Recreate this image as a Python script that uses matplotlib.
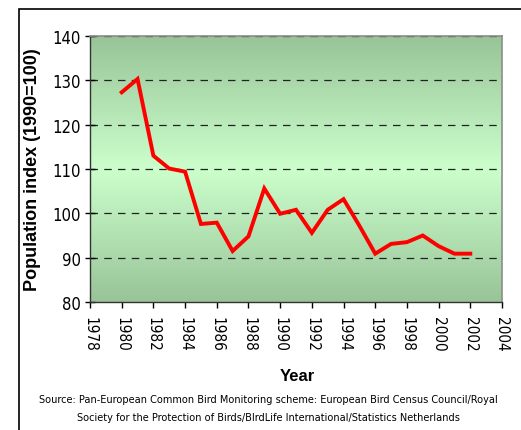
import numpy as np
import matplotlib.pyplot as plt
from matplotlib.colors import LinearSegmentedColormap
from matplotlib.patches import Rectangle

# ------------- dados -------------------
anos = [1980, 1981, 1982, 1983, 1984, 1985, 1986, 1987, 1988, 1989, 1990,
        1991, 1992, 1993, 1994, 1995, 1996, 1997, 1998, 1999, 2000, 2001, 2002]
indice = [127.3, 130.3, 113.0, 110.1, 109.4, 97.6, 97.9, 91.5, 94.8, 105.6, 99.9,
          100.8, 95.6, 100.8, 103.2, 97.2, 90.9, 93.1, 93.5, 95.0, 92.6, 90.9, 90.9]
xticks = list(range(1978, 2005, 2))
yticks = list(range(80, 141, 10))

fonte = ("Source: Pan-European Common Bird Monitoring scheme: European Bird Census Council/Royal\n"
         "Society for the Protection of Birds/BIrdLife International/Statistics Netherlands")

narrow = ['DejaVu Sans']
bold = ['Liberation Sans', 'DejaVu Sans']

# ------------- figura -------------------
fig = plt.figure(figsize=(5.21, 4.31), dpi=100)
fig.patch.set_facecolor('white')

# moldura externa
fig.patches.append(Rectangle((19/521, -0.1), 1.2, (431-10)/431 + 0.1,
                             transform=fig.transFigure, fill=False,
                             edgecolor='black', linewidth=1.2, zorder=0))

ax = fig.add_axes([90/521, (431-303)/431, (502-90)/521, (303-37)/431])

# fundo em gradiente
cmap = LinearSegmentedColormap.from_list('verde', ['#98c498', '#ccffcc', '#98c498'])
grad = np.linspace(0, 1, 256).reshape(-1, 1)
ax.imshow(grad, aspect='auto', cmap=cmap, extent=[0, 1, 0, 1],
          transform=ax.transAxes, zorder=0)

# grade
for v in yticks[1:]:
    ax.axhline(v, color='#222222', linestyle=(0, (6, 5)), linewidth=0.9, zorder=1)

ax.plot(anos, indice, color='#ff0000', linewidth=2.8, solid_joinstyle='miter', zorder=3)

ax.set_xlim(1978, 2004)
ax.set_ylim(80, 140)
ax.set_xticks(xticks)
ax.set_yticks(yticks)
ax.set_xticklabels([str(x) for x in xticks], rotation=270, family=narrow,
                   fontstretch='condensed', fontsize=11)
ax.set_yticklabels([str(y) for y in yticks], family=narrow,
                   fontstretch='condensed', fontsize=12)
ax.tick_params(axis='y', direction='inout', length=7, width=1, pad=3)
ax.tick_params(axis='x', direction='out', length=4, width=1, pad=6)

for s in ['top', 'right']:
    ax.spines[s].set_color('#8c8c8c')
    ax.spines[s].set_linewidth(1.2)
for s in ['left', 'bottom']:
    ax.spines[s].set_color('#333333')
    ax.spines[s].set_linewidth(1)

ax.set_ylabel("Population index (1990=100)", family=bold, fontweight='bold',
              fontsize=13, labelpad=8)
fig.text(297/521, 1 - 377/431, "Year", family=bold, fontweight='bold',
         fontsize=12, ha='center', va='center')
fig.text(268/521, 1 - 409/431, fonte, family=narrow, fontstretch='condensed',
         fontsize=7.8, ha='center', va='center', linespacing=2.0)

fig.savefig('out.png', dpi=100)
